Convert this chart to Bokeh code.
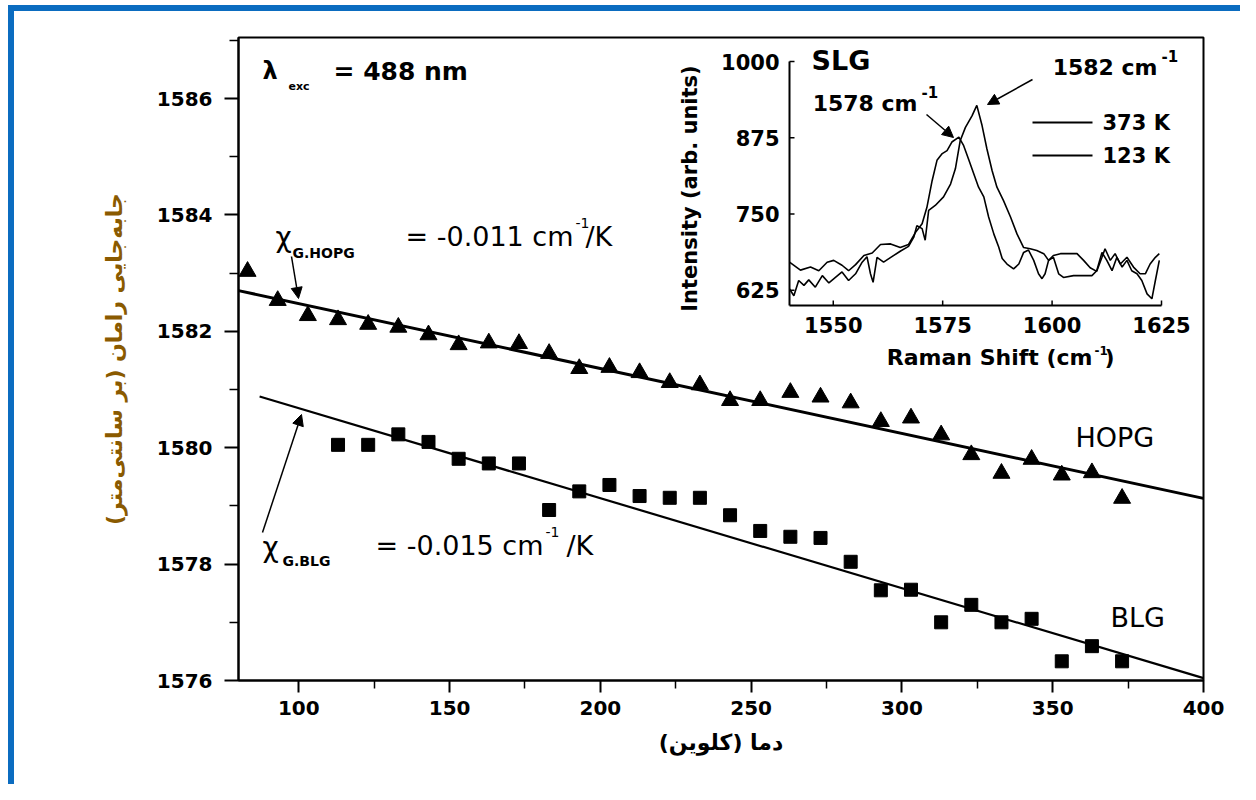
import numpy as np
from bokeh.plotting import figure
from bokeh.models import (FixedTicker, Range1d, Label, Arrow, NormalHead,
                          ColumnDataSource)
from bokeh.embed import file_html
from bokeh.resources import INLINE
from bokeh.core.properties import value

# ---------------- data ----------------
hopg_temperature = [83, 93, 103, 113, 123, 133, 143, 153, 163, 173, 183, 193, 203, 213, 223,
                    233, 243, 253, 263, 273, 283, 293, 303, 313, 323, 333, 343, 353, 363, 373]
hopg_shift = [1583.03, 1582.53, 1582.27, 1582.20, 1582.12, 1582.07, 1581.94, 1581.77, 1581.80,
              1581.79, 1581.62, 1581.36, 1581.38, 1581.29, 1581.12, 1581.08, 1580.81, 1580.81,
              1580.95, 1580.87, 1580.77, 1580.45, 1580.51, 1580.22, 1579.88, 1579.56, 1579.80,
              1579.53, 1579.57, 1579.13]
blg_temperature = [113, 123, 133, 143, 153, 163, 173, 183, 193, 203, 213, 223, 233, 243,
                   253, 263, 273, 283, 293, 303, 313, 323, 333, 343, 353, 363, 373]
blg_shift = [1580.05, 1580.05, 1580.23, 1580.10, 1579.81, 1579.73, 1579.73, 1578.93, 1579.25,
             1579.36, 1579.17, 1579.14, 1579.14, 1578.84, 1578.57, 1578.47, 1578.45, 1578.04,
             1577.55, 1577.56, 1577.00, 1577.30, 1577.00, 1577.06, 1576.33, 1576.59, 1576.33]
hopg_fit_t = [80, 400]
hopg_fit_shift = [1582.70, 1579.13]
blg_fit_t = [87, 400]
blg_fit_shift = [1580.88, 1576.04]

x_ticks = [100, 150, 200, 250, 300, 350, 400]
x_minor_ticks = [125, 175, 225, 275, 325, 375]
y_ticks = [1576, 1578, 1580, 1582, 1584, 1586]
y_minor_ticks = [1577, 1579, 1581, 1583, 1585, 1587]

# inset: SLG spectra
shift_373 = [1540.0, 1542.5, 1544.8, 1546.7, 1548.6, 1550.1, 1552.0, 1553.5, 1555.1, 1557.0,
             1558.9, 1560.8, 1563.1, 1565.3, 1567.2, 1568.8, 1570.3, 1571.4, 1572.6, 1573.7,
             1574.9, 1576.0, 1577.1, 1578.7, 1579.8, 1580.9, 1582.1, 1583.2, 1584.4, 1585.5,
             1586.7, 1587.8, 1588.6, 1589.7, 1591.2, 1592.4, 1593.5, 1594.6, 1595.8, 1596.9,
             1597.7, 1598.4, 1599.2, 1600.3, 1601.5, 1602.6, 1604.9, 1607.2, 1609.1, 1610.2,
             1611.4, 1612.5, 1613.7, 1614.8, 1616.0, 1617.1, 1618.2, 1619.4, 1620.5, 1621.7,
             1622.8, 1623.6, 1624.5]
intensity_373 = [671, 658, 663, 657, 671, 674, 666, 657, 667, 682,
                 686, 700, 701, 695, 700, 720, 734, 761, 805, 838,
                 849, 854, 868, 876, 862, 840, 816, 794, 778, 745,
                 717, 696, 677, 668, 660, 668, 687, 691, 674, 652,
                 644, 652, 674, 679, 652, 646, 649, 649, 649, 657,
                 687, 674, 657, 679, 663, 674, 657, 652, 641, 619,
                 611, 641, 674]
shift_123 = [1540.0, 1541.0, 1542.1, 1543.3, 1544.4, 1545.9, 1547.5, 1549.0, 1550.5, 1552.0,
             1553.5, 1555.1, 1556.6, 1557.7, 1558.5, 1559.1, 1560.0, 1561.5, 1563.4, 1565.3,
             1567.2, 1568.4, 1569.1, 1570.3, 1571.0, 1571.8, 1573.3, 1575.2, 1576.8, 1577.9,
             1579.0, 1580.2, 1581.7, 1582.8, 1584.0, 1585.1, 1586.3, 1587.4, 1588.9, 1590.5,
             1592.0, 1593.5, 1595.0, 1596.5, 1598.1, 1599.2, 1600.3, 1601.9, 1604.2, 1605.7,
             1607.2, 1608.7, 1610.2, 1611.4, 1612.1, 1613.3, 1614.4, 1615.6, 1617.1, 1618.6,
             1620.1, 1621.3, 1622.4, 1623.6, 1624.5]
intensity_123 = [627, 616, 641, 633, 642, 630, 649, 637, 646, 655,
                 641, 652, 671, 680, 652, 638, 679, 671, 680, 689,
                 697, 712, 731, 726, 707, 756, 764, 778, 799, 824,
                 870, 892, 911, 928, 895, 857, 821, 794, 772, 745,
                 717, 695, 693, 690, 685, 674, 682, 685, 685, 685,
                 674, 662, 656, 679, 693, 674, 685, 668, 679, 663,
                 652, 652, 668, 679, 685]
inset_x_ticks = [1550, 1575, 1600, 1625]
inset_y_ticks = [625, 750, 875, 1000]
legend_names = ["373 K", "123 K"]

# ---------------- layout (pixel geometry of the picture) ----------------
W, H = 1240, 784
FL, FR, FT, FB = 238, 1203, 37, 680     # main frame in picture pixels
X0, X1 = 80, 400
Y0, Y1 = 1576, 1587.05


def mx(px):
    return X0 + (px - FL) * (X1 - X0) / (FR - FL)


def my(py):
    return Y0 + (FB - py) * (Y1 - Y0) / (FB - FT)


# inset box in picture pixels and its data limits
IL, IR, IT, IB = 789, 1161, 61, 305
IX0, IX1 = 1540, 1625
IY0, IY1 = 600, 1000
kx = (IR - IL) / (IX1 - IX0)
ky = (IB - IT) / (IY1 - IY0)
ix_start = IX0 - (IL - FL) / kx
ix_end = IX1 + (FR - IR) / kx
iy_start = IY0 - (FB - IB) / ky
iy_end = IY1 + (IT - FT) / ky


def ix(px):
    return IX0 + (px - IL) / kx


def iy(py):
    return IY0 + (IB - py) / ky


BLUE = "#0b6cc0"
p = figure(width=W, height=H, x_range=Range1d(X0, X1), y_range=Range1d(Y0, Y1),
           output_backend="svg", toolbar_location=None,
           min_border_left=FL, min_border_right=W - FR,
           min_border_top=FT, min_border_bottom=H - FB)
p.extra_x_ranges = {"ix": Range1d(ix_start, ix_end)}
p.extra_y_ranges = {"iy": Range1d(iy_start, iy_end)}
p.styles = {
    "background-color": "white",
    "background-image": f"linear-gradient({BLUE},{BLUE}), linear-gradient({BLUE},{BLUE})",
    "background-size": "6px 100%, 100% 6px",
    "background-position": "8px 5px, 8px 5px",
    "background-repeat": "no-repeat",
}

p.xgrid.visible = False
p.ygrid.visible = False
p.outline_line_color = "black"
p.outline_line_width = 2
p.background_fill_color = "white"
p.border_fill_color = None

p.xaxis.ticker = FixedTicker(ticks=x_ticks, minor_ticks=x_minor_ticks)
p.yaxis.ticker = FixedTicker(ticks=y_ticks, minor_ticks=y_minor_ticks)
for ax in (p.xaxis, p.yaxis):
    ax.axis_line_width = 2
    ax.major_tick_line_width = 2
    ax.minor_tick_line_width = 1.5
    ax.major_tick_in = 0
    ax.minor_tick_in = 0
    ax.major_label_text_font = "DejaVu Sans"
    ax.major_label_text_font_style = "bold"
    ax.major_label_text_font_size = "20px"
    ax.major_label_text_color = "black"
    ax.axis_label_text_font = "DejaVu Sans"
    ax.axis_label_text_font_style = "bold"
p.yaxis.major_tick_out = 14
p.yaxis.minor_tick_out = 9
p.xaxis.major_tick_out = 12
p.xaxis.minor_tick_out = 8
p.yaxis.major_label_standoff = 12
p.xaxis.major_label_standoff = 8

p.yaxis.axis_label = "جابه‌جایی رامان (بر سانتی‌متر)\u200f"
p.yaxis.axis_label_text_font_size = "22px"
p.yaxis.axis_label_text_color = "#8a5a00"
p.yaxis.axis_label_standoff = 27
p.xaxis.axis_label = "دما (کلوین)\u200f"
p.xaxis.axis_label_text_font_size = "22px"
p.xaxis.axis_label_text_color = "black"
p.xaxis.axis_label_standoff = 12

# ---------------- main data ----------------
p.line(hopg_fit_t, hopg_fit_shift, line_color="black", line_width=3)
p.line(blg_fit_t, blg_fit_shift, line_color="black", line_width=2.2)
p.scatter(hopg_temperature, hopg_shift, marker="triangle", size=17,
          fill_color="black", line_color="black")
p.scatter(blg_temperature, blg_shift, marker="square", size=13,
          fill_color="black", line_color="black")


def lab(px, py, text, size, bold=False, align="left", font="DejaVu Sans", angle=0):
    p.add_layout(Label(x=mx(px), y=my(py), text=text, text_font=font,
                       text_font_size=f"{size}px",
                       text_font_style="bold" if bold else "normal",
                       text_align=align, text_baseline="middle", angle=angle,
                       text_color="black"))


# excitation wavelength
lab(262, 70, "λ", 24, bold=True)
lab(288, 86, "exc", 11, bold=True)
lab(333, 71, "= 488 nm", 25, bold=True)

# HOPG coefficient
lab(275, 237, "χ", 28)
lab(292, 252, "G.HOPG", 14, bold=True)
lab(573, 236, "= -0.011 cm", 27, align="right")
lab(575, 222, "-1", 14)
lab(585, 236, "/K", 27)
# BLG coefficient
lab(262, 547, "χ", 28)
lab(282, 560, "G.BLG", 14, bold=True)
lab(543, 545, "= -0.015 cm", 27, align="right")
lab(545, 531, "-1", 14)
lab(566, 545, "/K", 27)
# series names
lab(1075, 437, "HOPG", 27)
lab(1110, 617, "BLG", 27)

head = dict(size=11, fill_color="black", line_color="black")
p.add_layout(Arrow(end=NormalHead(**head), x_start=mx(291), y_start=my(256),
                   x_end=mx(298), y_end=my(298), line_width=1.5))
p.add_layout(Arrow(end=NormalHead(**head), x_start=mx(262), y_start=my(532),
                   x_end=mx(301), y_end=my(414), line_width=1.5))

# ---------------- inset ----------------
R = dict(x_range_name="ix", y_range_name="iy")
p.line(shift_373, intensity_373, line_color="black", line_width=1.6, **R)
p.line(shift_123, intensity_123, line_color="black", line_width=1.6, **R)

# inset axes
p.segment(x0=[IX0, IX0], y0=[IY0, IY0], x1=[IX1, IX0], y1=[IY0, IY1],
          line_color="black", line_width=2, **R)
p.segment(x0=inset_x_ticks, y0=[IY0] * len(inset_x_ticks),
          x1=inset_x_ticks, y1=[IY0 + 5 / ky] * len(inset_x_ticks),
          line_color="black", line_width=1.5, **R)
p.segment(x0=[IX0] * len(inset_y_ticks), y0=inset_y_ticks,
          x1=[IX0 + 5 / kx] * len(inset_y_ticks), y1=inset_y_ticks,
          line_color="black", line_width=1.5, **R)
tick_font = dict(text_font=value("DejaVu Sans"), text_font_style="bold",
                 text_font_size="21px", text_color="black")
p.text(x=[IX0 - 10 / kx] * len(inset_y_ticks), y=inset_y_ticks,
       text=[str(t) for t in inset_y_ticks], text_align="right",
       text_baseline="middle", **tick_font, **R)
p.text(x=inset_x_ticks, y=[IY0 - 19 / ky] * len(inset_x_ticks),
       text=[str(t) for t in inset_x_ticks], text_align="center",
       text_baseline="middle", **tick_font, **R)

# inset legend
leg_y = [iy(122), iy(155)]
p.segment(x0=[ix(1032)] * 2, y0=leg_y, x1=[ix(1092)] * 2, y1=leg_y,
          line_color="black", line_width=2, **R)
p.text(x=[ix(1102)] * 2, y=leg_y, text=legend_names, text_align="left",
       text_baseline="middle", **tick_font, **R)

# inset texts
lab(811, 60, "SLG", 27, bold=True)
lab(917, 103, "1578 cm", 22, bold=True, align="right")
lab(921, 91, "-1", 15, bold=True)
lab(1157, 67, "1582 cm", 22, bold=True, align="right")
lab(1161, 55, "-1", 15, bold=True)
lab(1092, 357, "Raman Shift (cm", 22, bold=True, align="right")
lab(1094, 350, "-1", 12, bold=True)
lab(1104, 357, ")", 22, bold=True)
lab(689, 188, "Intensity (arb. units)", 21, bold=True, align="center", angle=np.pi / 2)

p.add_layout(Arrow(end=NormalHead(**head), x_start=mx(926), y_start=my(114),
                   x_end=mx(953), y_end=my(137), line_width=1.5))
p.add_layout(Arrow(end=NormalHead(**head), x_start=mx(1032), y_start=my(79),
                   x_end=mx(987), y_end=my(104), line_width=1.5))

open("out.html", "w").write(file_html(p, INLINE))
